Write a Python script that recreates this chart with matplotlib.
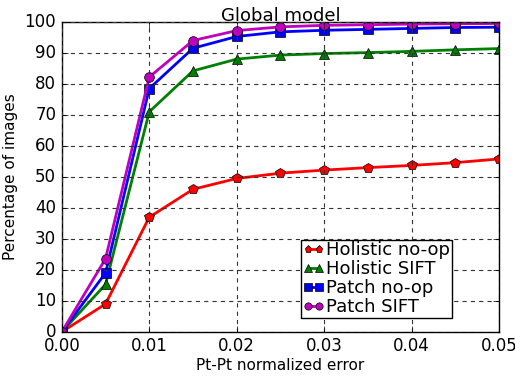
import numpy as np
import matplotlib.pyplot as plt

plt.style.use('classic')

# normalized point-to-point error thresholds
err = [0.0, 0.005, 0.01, 0.015, 0.02, 0.025, 0.03, 0.035, 0.04, 0.045, 0.05]

holistic_noop = [0, 9, 37, 46, 49.5, 51.2, 52.2, 53, 53.7, 54.6, 55.8]
holistic_sift = [0, 15.3, 71, 84.2, 88, 89.3, 89.8, 90.1, 90.5, 91, 91.4]
patch_noop = [0, 19, 78.5, 91.5, 95.3, 96.8, 97.3, 97.6, 97.9, 98.2, 98.3]
patch_sift = [0, 23.6, 82.2, 94, 97.2, 98.4, 98.9, 99.1, 99.3, 99.4, 99.5]

fig = plt.figure(figsize=(5.15, 3.78), dpi=100, facecolor='white')
ax = fig.add_axes([0.12, 0.122, 0.849, 0.82])

ax.plot(err, holistic_noop, 'r-p', lw=2, ms=7, label='Holistic no-op')
ax.plot(err, holistic_sift, 'g-^', lw=2, ms=7, label='Holistic SIFT')
ax.plot(err, patch_noop, 'b-s', lw=2, ms=7, label='Patch no-op')
ax.plot(err, patch_sift, 'm-o', lw=2, ms=7, label='Patch SIFT')

ax.set_xlim(0, 0.05)
ax.set_ylim(0, 100)
ax.set_xticks(np.arange(0, 0.051, 0.01))
ax.set_xticklabels(['0.00', '0.01', '0.02', '0.03', '0.04', '0.05'])
ax.set_yticks(range(0, 101, 10))
ax.grid(True, linestyle=(0, (3, 3)), color='#333333', linewidth=0.8)
ax.set_title('Global model', fontsize=13, pad=1)
ax.set_xlabel('Pt-Pt normalized error', fontsize=11, labelpad=2)
ax.set_ylabel('Percentage of images', fontsize=11)
ax.tick_params(labelsize=12)

ax.legend(loc='lower right', bbox_to_anchor=(0.893, 0.045), fontsize=13,
          numpoints=2, markerscale=0.75, handlelength=1.2, handletextpad=0.1,
          borderpad=0.1, labelspacing=0.05, borderaxespad=0)

fig.savefig('out.png', dpi=100, facecolor='white')
